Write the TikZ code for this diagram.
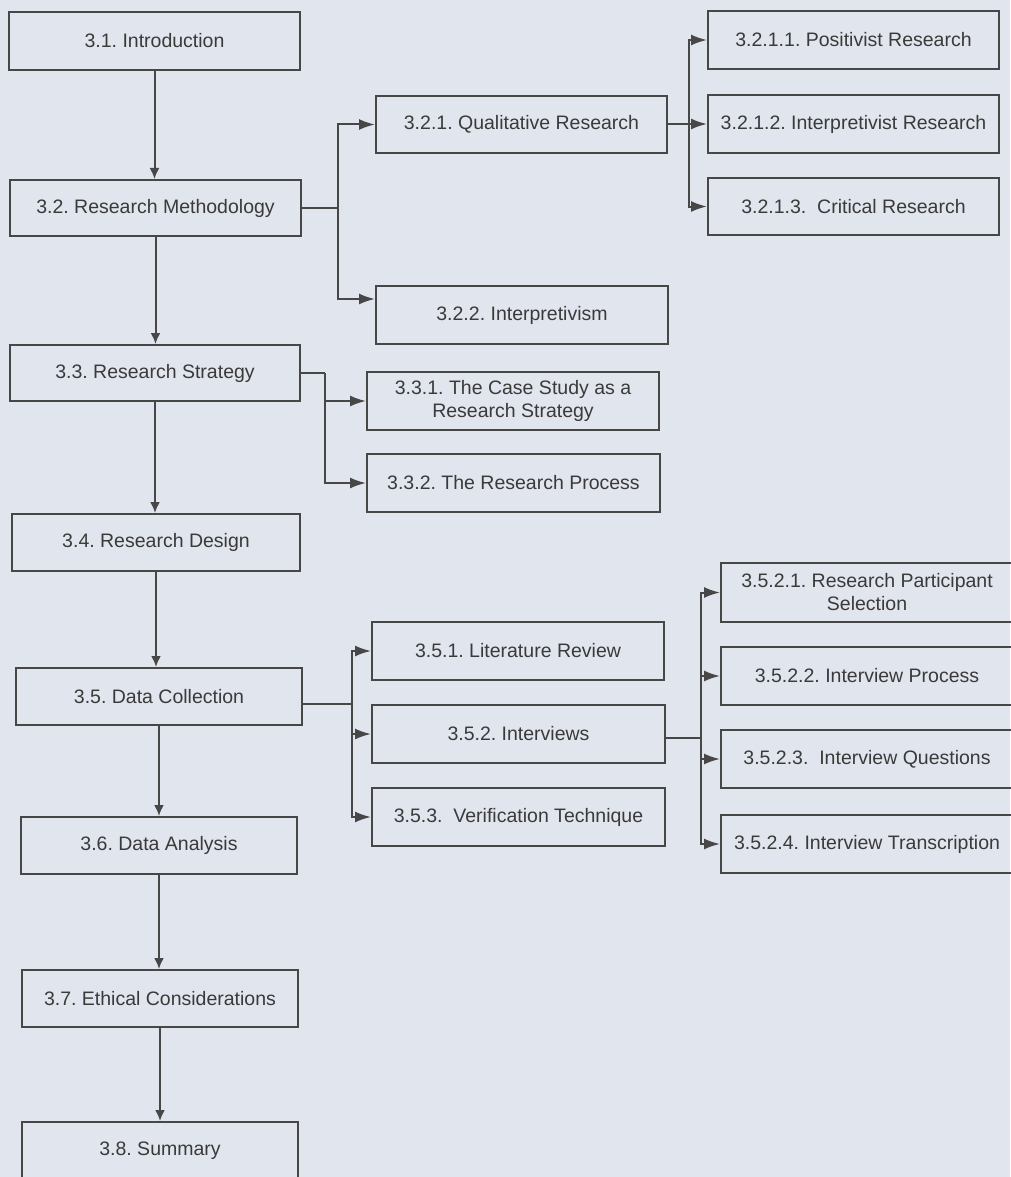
\documentclass[tikz,border=0pt]{standalone}
\usepackage{fontspec}
\setmainfont{Liberation Sans}
\usetikzlibrary{arrows.meta,calc}
\definecolor{paper}{HTML}{E1E5ED}
\definecolor{ink}{HTML}{474747}
\definecolor{txt}{HTML}{3A3A3A}
\frenchspacing
\tikzset{
  chbox/.style={draw=ink, line width=2pt, rectangle, align=center, text=txt,
    inner sep=0pt, font=\fontsize{19.5}{23}\selectfont},
  link/.style={draw=ink, line width=2pt},
  htip/.style={link, -{Latex[length=16pt,width=11pt]}},
  vtip/.style={link, -{Latex[length=11pt,width=10pt]}},
}
\begin{document}
\begin{tikzpicture}[x=1pt,y=-1pt]
  \fill[paper] (0,0) rectangle (1010,1177);
  \useasboundingbox (0,0) rectangle (1010,1177);

  % main chapter sections
  \node[chbox, minimum width=291pt, minimum height=58pt] (a31) at (154.5,41) {3.1. Introduction};
  \node[chbox, minimum width=291pt, minimum height=56pt] (a32) at (155.5,208) {3.2. Research Methodology};
  \node[chbox, minimum width=290pt, minimum height=56pt] (a33) at (155,373) {3.3. Research Strategy};
  \node[chbox, minimum width=288pt, minimum height=57pt] (a34) at (156,542.5) {3.4. Research Design};
  \node[chbox, minimum width=286pt, minimum height=57pt] (a35) at (159,696.5) {3.5. Data Collection};
  \node[chbox, minimum width=276pt, minimum height=57pt] (a36) at (159,845.5) {3.6. Data Analysis};
  \node[chbox, minimum width=276pt, minimum height=57pt] (a37) at (160,998.5) {3.7. Ethical Considerations};
  \node[chbox, minimum width=276pt, minimum height=57pt] (a38) at (160,1150.5) {3.8. Summary};

  % subsections
  \node[chbox, minimum width=291pt, minimum height=57pt] (b321) at (521.5,124.5) {3.2.1. Qualitative Research};
  \node[chbox, minimum width=292pt, minimum height=58pt] (b322) at (522,315) {3.2.2. Interpretivism};
  \node[chbox, minimum width=292pt, minimum height=58pt] (b331) at (513,401) {3.3.1. The Case Study as a\\Research Strategy};
  \node[chbox, minimum width=293pt, minimum height=58pt] (b332) at (513.5,483) {3.3.2. The Research Process};
  \node[chbox, minimum width=292pt, minimum height=58pt] (b351) at (518,651) {3.5.1. Literature Review};
  \node[chbox, minimum width=293pt, minimum height=58pt] (b352) at (518.5,734) {3.5.2. Interviews};
  \node[chbox, minimum width=293pt, minimum height=58pt] (b353) at (518.5,817) {3.5.3.\ \ Verification Technique};

  % sub-subsections
  \node[chbox, minimum width=291pt, minimum height=58pt] (c3211) at (853.5,40) {3.2.1.1. Positivist Research};
  \node[chbox, minimum width=291pt, minimum height=58pt] (c3212) at (853.5,124) {3.2.1.2. Interpretivist Research};
  \node[chbox, minimum width=291pt, minimum height=57pt] (c3213) at (853.5,206.5) {3.2.1.3.\ \ Critical Research};
  \node[chbox, minimum width=292pt, minimum height=59pt] (d3521) at (867,592.5) {3.5.2.1. Research Participant\\Selection};
  \node[chbox, minimum width=292pt, minimum height=58pt] (d3522) at (867,676) {3.5.2.2. Interview Process};
  \node[chbox, minimum width=292pt, minimum height=58pt] (d3523) at (867,759) {3.5.2.3.\ \ Interview Questions};
  \node[chbox, minimum width=292pt, minimum height=58pt] (d3524) at (867,844) {3.5.2.4. Interview Transcription};

  % main sequence
  \draw[vtip] (a31.south) -- (a31.south |- a32.north);
  \draw[vtip] (a32.south) -- (a32.south |- a33.north);
  \draw[vtip] (a33.south) -- (a33.south |- a34.north);
  \draw[vtip] (a34.south) -- (a34.south |- a35.north);
  \draw[vtip] (a35.south) -- (a35.south |- a36.north);
  \draw[vtip] (a36.south) -- (a36.south |- a37.north);
  \draw[vtip] (a37.south) -- (a37.south |- a38.north);

  % branches of 3.2
  \coordinate (j32) at (338,208);
  \draw[link] (a32.east) -- (j32);
  \draw[htip] (j32) |- (b321.west);
  \draw[htip] (j32) |- ([yshift=-14pt]b322.north west);

  % branches of 3.2.1
  \coordinate (j321) at (689,124.5);
  \draw[link] (b321.east) -- (j321);
  \draw[htip] (j321) |- (c3211.west);
  \draw[htip] (j321) |- (c3212.west);
  \draw[htip] (j321) |- (c3213.west);

  % branches of 3.3
  \coordinate (j33) at (325,373);
  \draw[link] (a33.east) -- (j33);
  \draw[htip] (j33) |- (b331.west);
  \draw[htip] (j33) |- (b332.west);

  % branches of 3.5
  \coordinate (j35) at (352,704);
  \draw[link] (a35.east |- j35) -- (j35);
  \draw[htip] (j35) |- (b351.west);
  \draw[htip] (j35) |- (b352.west);
  \draw[htip] (j35) |- (b353.west);

  % branches of 3.5.2
  \coordinate (j352) at (701,738);
  \draw[link] (b352.east |- j352) -- (j352);
  \draw[htip] (j352) |- (d3521.west);
  \draw[htip] (j352) |- (d3522.west);
  \draw[htip] (j352) |- (d3523.west);
  \draw[htip] (j352) |- (d3524.west);
\end{tikzpicture}
\end{document}
